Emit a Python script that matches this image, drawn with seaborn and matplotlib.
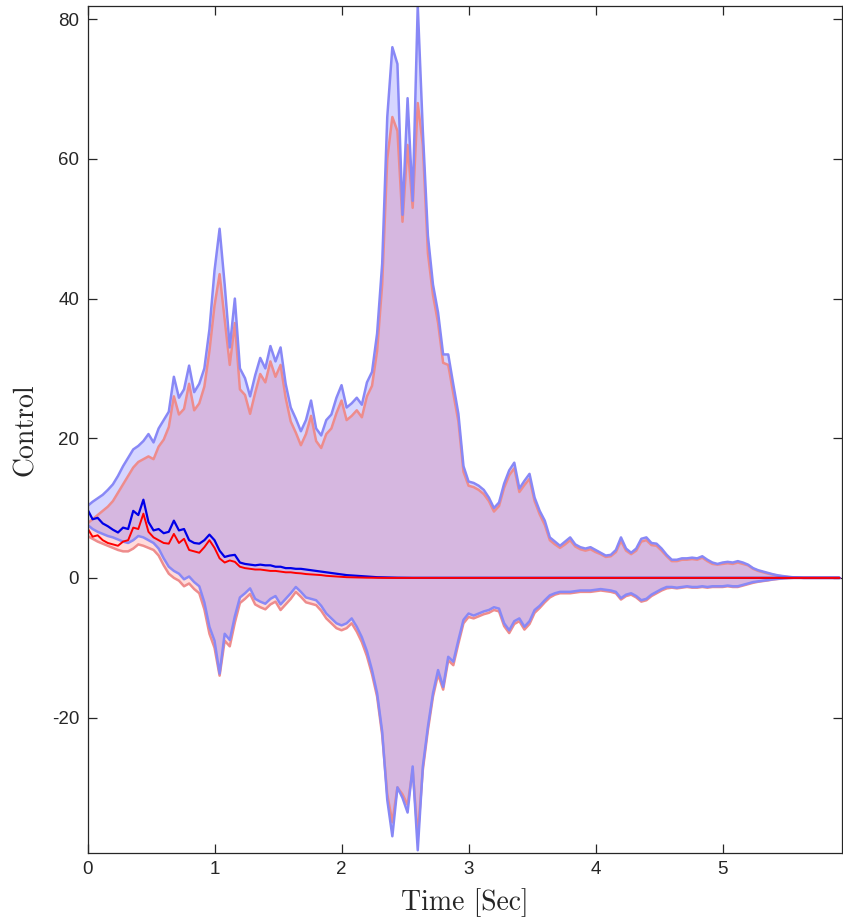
import numpy as np
import pandas as pd
import matplotlib
matplotlib.use("Agg")
import matplotlib.pyplot as plt
import seaborn as sns

# time grid (seconds), 0.04 s step
t = np.round(np.arange(149) * 0.04, 2)

# blue ensemble: upper / lower envelope and mean
blue_hi = [
    10.3, 10.9, 11.4, 11.9, 12.6, 13.4, 14.6, 16.0, 17.2, 18.4,
    18.9, 19.6, 20.6, 19.4, 21.4, 22.6, 23.8, 28.8, 25.8, 27.0,
    30.4, 26.6, 27.8, 30.0, 35.6, 44.0, 50.0, 42.0, 33.0, 40.0,
    30.0, 28.6, 26.0, 29.0, 31.5, 30.0, 33.2, 31.0, 33.0, 27.8,
    24.4, 22.8, 21.0, 22.6, 25.4, 21.4, 20.4, 22.6, 23.4, 25.8,
    27.6, 24.4, 25.0, 25.8, 24.8, 28.0, 29.5, 35.0, 45.0, 66.0,
    76.0, 73.6, 52.0, 68.7, 54.0, 82.0, 64.0, 49.0, 42.0, 38.0,
    32.0, 32.0, 27.7, 23.5, 16.0, 13.8, 13.6, 13.2, 12.6, 11.5,
    10.0, 10.8, 13.5, 15.4, 16.5, 12.8, 13.9, 14.9, 11.5, 9.6,
    8.2, 5.8, 5.2, 4.6, 5.2, 5.8, 4.8, 4.4, 4.2, 4.4,
    4.0, 3.6, 3.2, 3.3, 4.0, 5.8, 4.2, 3.6, 4.2, 5.6,
    5.8, 5.0, 4.9, 4.2, 3.3, 2.6, 2.6, 2.8, 2.8, 2.9,
    2.8, 3.1, 2.6, 2.2, 2.0, 2.2, 2.3, 2.2, 2.4, 2.2,
    1.9, 1.4, 1.1, 0.9, 0.7, 0.5, 0.35, 0.25, 0.15, 0.08,
    0.04, 0.0, 0.0, 0.0, 0.0, 0.0, 0.0, 0.0, 0.0,
]
blue_lo = [
    7.6, 7.0, 6.6, 6.3, 6.0, 5.8, 5.5, 5.2, 5.0, 5.4,
    6.0, 5.8, 5.4, 5.0, 4.2, 2.8, 1.6, 1.0, 0.6, -0.2,
    0.2, -0.6, -1.2, -3.5, -7.0, -9.0, -13.7, -8.0, -8.9, -5.5,
    -2.8, -2.2, -1.5, -3.0, -3.4, -3.7, -3.0, -2.6, -3.8, -3.0,
    -2.2, -1.3, -2.0, -2.8, -3.0, -3.2, -4.0, -5.1, -5.8, -6.5,
    -6.8, -6.5, -5.8, -7.0, -8.5, -10.5, -13.2, -16.5, -22.0, -31.8,
    -37.0, -30.0, -31.5, -33.6, -27.0, -39.0, -27.0, -21.3, -16.5, -13.2,
    -15.6, -11.3, -12.0, -8.9, -6.0, -5.1, -5.4, -5.1, -4.8, -4.6,
    -4.2, -4.4, -6.5, -7.5, -6.2, -5.8, -7.0, -6.2, -4.6, -4.0,
    -3.2, -2.5, -2.2, -2.0, -2.0, -2.0, -1.9, -1.8, -1.8, -1.8,
    -1.7, -1.6, -1.7, -1.8, -2.0, -2.9, -2.4, -2.2, -2.6, -3.2,
    -3.0, -2.4, -2.0, -1.6, -1.3, -1.3, -1.4, -1.3, -1.2, -1.3,
    -1.3, -1.2, -1.3, -1.2, -1.2, -1.2, -1.1, -1.2, -1.2, -1.0,
    -0.8, -0.6, -0.5, -0.4, -0.3, -0.2, -0.12, -0.06, -0.02, 0.0,
    0.0, 0.0, 0.0, 0.0, 0.0, 0.0, 0.0, 0.0, 0.0,
]
blue_mean = [
    9.8, 8.4, 8.6, 7.8, 7.4, 6.9, 6.5, 7.2, 7.0, 9.6,
    9.0, 11.2, 8.0, 6.8, 7.0, 6.4, 6.6, 8.2, 6.8, 7.0,
    5.4, 5.0, 4.9, 5.4, 6.2, 5.4, 3.9, 3.0, 3.2, 3.3,
    2.2, 2.0, 1.9, 1.8, 1.9, 1.8, 1.8, 1.6, 1.6, 1.4,
    1.4, 1.3, 1.3, 1.2, 1.1, 1.0, 0.9, 0.8, 0.7, 0.6,
    0.5, 0.4, 0.35, 0.3, 0.25, 0.2, 0.15, 0.1, 0.08, 0.06,
    0.04, 0.03, 0.02, 0.02, 0.01, 0.01, 0.0, 0.0, 0.0, 0.0,
    0.0, 0.0, 0.0, 0.0, 0.0, 0.0, 0.0, 0.0, 0.0, 0.0,
    0.0, 0.0, 0.0, 0.0, 0.0, 0.0, 0.0, 0.0, 0.0, 0.0,
    0.0, 0.0, 0.0, 0.0, 0.0, 0.0, 0.0, 0.0, 0.0, 0.0,
    0.0, 0.0, 0.0, 0.0, 0.0, 0.0, 0.0, 0.0, 0.0, 0.0,
    0.0, 0.0, 0.0, 0.0, 0.0, 0.0, 0.0, 0.0, 0.0, 0.0,
    0.0, 0.0, 0.0, 0.0, 0.0, 0.0, 0.0, 0.0, 0.0, 0.0,
    0.0, 0.0, 0.0, 0.0, 0.0, 0.0, 0.0, 0.0, 0.0, 0.0,
    0.0, 0.0, 0.0, 0.0, 0.0, 0.0, 0.0, 0.0, 0.0,
]

# red ensemble: upper / lower envelope and mean
red_hi = [
    7.8, 8.4, 9.0, 9.6, 10.2, 11.0, 12.2, 13.4, 14.6, 15.8,
    16.6, 17.0, 17.4, 17.0, 18.8, 19.8, 21.6, 26.0, 23.4, 24.2,
    27.8, 24.0, 25.0, 27.4, 32.5, 39.0, 43.5, 37.0, 30.5, 36.5,
    27.0, 26.2, 23.5, 26.5, 29.2, 28.0, 31.0, 28.8, 30.5, 25.8,
    22.4, 20.8, 19.0, 20.6, 23.2, 19.6, 18.6, 20.6, 21.4, 23.6,
    25.4, 22.6, 23.2, 24.0, 23.0, 26.0, 27.5, 32.5, 42.0, 60.0,
    66.0, 64.0, 51.0, 62.0, 53.0, 68.0, 62.0, 46.5, 40.5, 36.5,
    30.8, 30.5, 26.4, 22.4, 15.2, 13.2, 13.0, 12.6, 12.0, 11.0,
    9.5, 10.3, 12.9, 14.7, 15.7, 12.3, 13.3, 14.2, 11.0, 9.1,
    7.6, 5.4, 4.8, 4.3, 4.8, 5.4, 4.5, 4.1, 3.9, 4.1,
    3.7, 3.4, 3.0, 3.1, 3.7, 5.3, 3.9, 3.4, 3.9, 5.2,
    5.4, 4.7, 4.6, 3.9, 3.1, 2.4, 2.4, 2.6, 2.6, 2.7,
    2.6, 2.9, 2.4, 2.0, 1.9, 2.0, 2.1, 2.0, 2.2, 2.0,
    1.8, 1.3, 1.0, 0.8, 0.6, 0.45, 0.3, 0.2, 0.12, 0.06,
    0.03, 0.0, 0.0, 0.0, 0.0, 0.0, 0.0, 0.0, 0.0,
]
red_lo = [
    6.0, 5.6, 5.2, 4.9, 4.6, 4.3, 4.0, 3.8, 3.8, 4.2,
    4.8, 4.6, 4.3, 4.0, 3.2, 1.8, 0.6, 0.0, -0.4, -1.2,
    -0.8, -1.6, -2.2, -4.5, -8.0, -10.0, -14.0, -9.0, -9.8, -6.4,
    -3.6, -3.0, -2.3, -3.8, -4.2, -4.5, -3.8, -3.4, -4.6, -3.8,
    -3.0, -2.0, -2.7, -3.5, -3.7, -3.9, -4.7, -5.8, -6.5, -7.2,
    -7.5, -7.2, -6.5, -7.7, -9.2, -11.2, -13.8, -17.0, -22.5, -31.0,
    -35.0, -30.0, -31.0, -32.5, -27.5, -37.0, -27.5, -21.8, -17.0, -13.8,
    -16.0, -11.8, -12.5, -9.4, -6.5, -5.6, -5.8, -5.5, -5.2, -5.0,
    -4.6, -4.8, -6.9, -7.9, -6.6, -6.2, -7.4, -6.6, -5.0, -4.3,
    -3.5, -2.8, -2.4, -2.2, -2.2, -2.2, -2.1, -2.0, -2.0, -2.0,
    -1.9, -1.8, -1.9, -2.0, -2.2, -3.1, -2.6, -2.4, -2.8, -3.4,
    -3.2, -2.6, -2.2, -1.8, -1.5, -1.4, -1.5, -1.4, -1.3, -1.4,
    -1.4, -1.3, -1.4, -1.3, -1.3, -1.3, -1.2, -1.3, -1.3, -1.1,
    -0.9, -0.7, -0.55, -0.45, -0.35, -0.22, -0.14, -0.07, -0.03, 0.0,
    0.0, 0.0, 0.0, 0.0, 0.0, 0.0, 0.0, 0.0, 0.0,
]
red_mean = [
    7.1, 5.9, 6.1, 5.4, 5.0, 4.8, 4.6, 5.2, 5.4, 7.2,
    7.0, 9.2, 6.6, 5.8, 5.4, 5.0, 4.9, 6.3, 5.0, 5.6,
    4.0, 3.8, 3.6, 4.4, 5.4, 4.3, 2.8, 2.2, 2.5, 2.3,
    1.6, 1.4, 1.3, 1.2, 1.2, 1.1, 1.0, 1.0, 0.9, 0.8,
    0.8, 0.7, 0.65, 0.55, 0.5, 0.45, 0.4, 0.3, 0.25, 0.2,
    0.15, 0.1, 0.08, 0.06, 0.04, 0.03, 0.02, 0.01, 0.0, 0.0,
    0.0, 0.0, 0.0, 0.0, 0.0, 0.0, 0.0, 0.0, 0.0, 0.0,
    0.0, 0.0, 0.0, 0.0, 0.0, 0.0, 0.0, 0.0, 0.0, 0.0,
    0.0, 0.0, 0.0, 0.0, 0.0, 0.0, 0.0, 0.0, 0.0, 0.0,
    0.0, 0.0, 0.0, 0.0, 0.0, 0.0, 0.0, 0.0, 0.0, 0.0,
    0.0, 0.0, 0.0, 0.0, 0.0, 0.0, 0.0, 0.0, 0.0, 0.0,
    0.0, 0.0, 0.0, 0.0, 0.0, 0.0, 0.0, 0.0, 0.0, 0.0,
    0.0, 0.0, 0.0, 0.0, 0.0, 0.0, 0.0, 0.0, 0.0, 0.0,
    0.0, 0.0, 0.0, 0.0, 0.0, 0.0, 0.0, 0.0, 0.0, 0.0,
    0.0, 0.0, 0.0, 0.0, 0.0, 0.0, 0.0, 0.0, 0.0,
]

x_ticks = [0, 1, 2, 3, 4, 5]
y_ticks = [-20, 0, 20, 40, 60, 80]
x_label = "Time [Sec]"
y_label = "Control"

df = pd.DataFrame({
    "t": t,
    "blue_hi": blue_hi, "blue_lo": blue_lo, "blue_mean": blue_mean,
    "red_hi": red_hi, "red_lo": red_lo, "red_mean": red_mean,
})

sns.set_theme(style="ticks")
plt.rcParams["font.family"] = ["Liberation Sans", "DejaVu Sans"]
plt.rcParams["axes.unicode_minus"] = False

fig = plt.figure(figsize=(8.43, 9.21), dpi=100)
ax = fig.add_axes([0.1038, 0.0738, 0.8950, 0.9197])

# shaded envelopes
ax.fill_between(df["t"], df["red_lo"], df["red_hi"], color=(1.0, 0.0, 0.0),
                alpha=0.14, linewidth=0)
ax.fill_between(df["t"], df["blue_lo"], df["blue_hi"], color=(0.0, 0.0, 1.0),
                alpha=0.16, linewidth=0)

# envelope edges
edge_kw = dict(estimator=None, sort=False, legend=False, ax=ax)
for col in ("red_hi", "red_lo"):
    sns.lineplot(data=df, x="t", y=col, color="#ee8c8c", linewidth=1.8, **edge_kw)
for col in ("blue_hi", "blue_lo"):
    sns.lineplot(data=df, x="t", y=col, color="#8888f6", linewidth=1.8, **edge_kw)

# ensemble means
sns.lineplot(data=df, x="t", y="blue_mean", color="#0000e8", linewidth=1.6, **edge_kw)
sns.lineplot(data=df, x="t", y="red_mean", color="#ff0000", linewidth=1.4, **edge_kw)

ax.set_xlim(0, 5.94)
ax.set_ylim(-39.4, 81.9)
ax.set_xticks(x_ticks)
ax.set_yticks(y_ticks)
ax.set_xticklabels([str(v) for v in x_ticks])
ax.set_yticklabels([str(v) for v in y_ticks])
ax.tick_params(direction="in", length=6.5, width=0.9, color="#262626",
               labelsize=13.5, labelcolor="#262626",
               top=True, right=True, pad=6)
for side in ("left", "right", "top", "bottom"):
    ax.spines[side].set_visible(True)
    ax.spines[side].set_color("#262626")
    ax.spines[side].set_linewidth(0.9)

ax.set_xlabel(x_label, fontfamily="cmr10", fontsize=20, color="#262626", labelpad=7)
ax.set_ylabel(y_label, fontfamily="cmr10", fontsize=20, color="#262626", labelpad=9)

fig.savefig("out.png", dpi=100, facecolor="white")
